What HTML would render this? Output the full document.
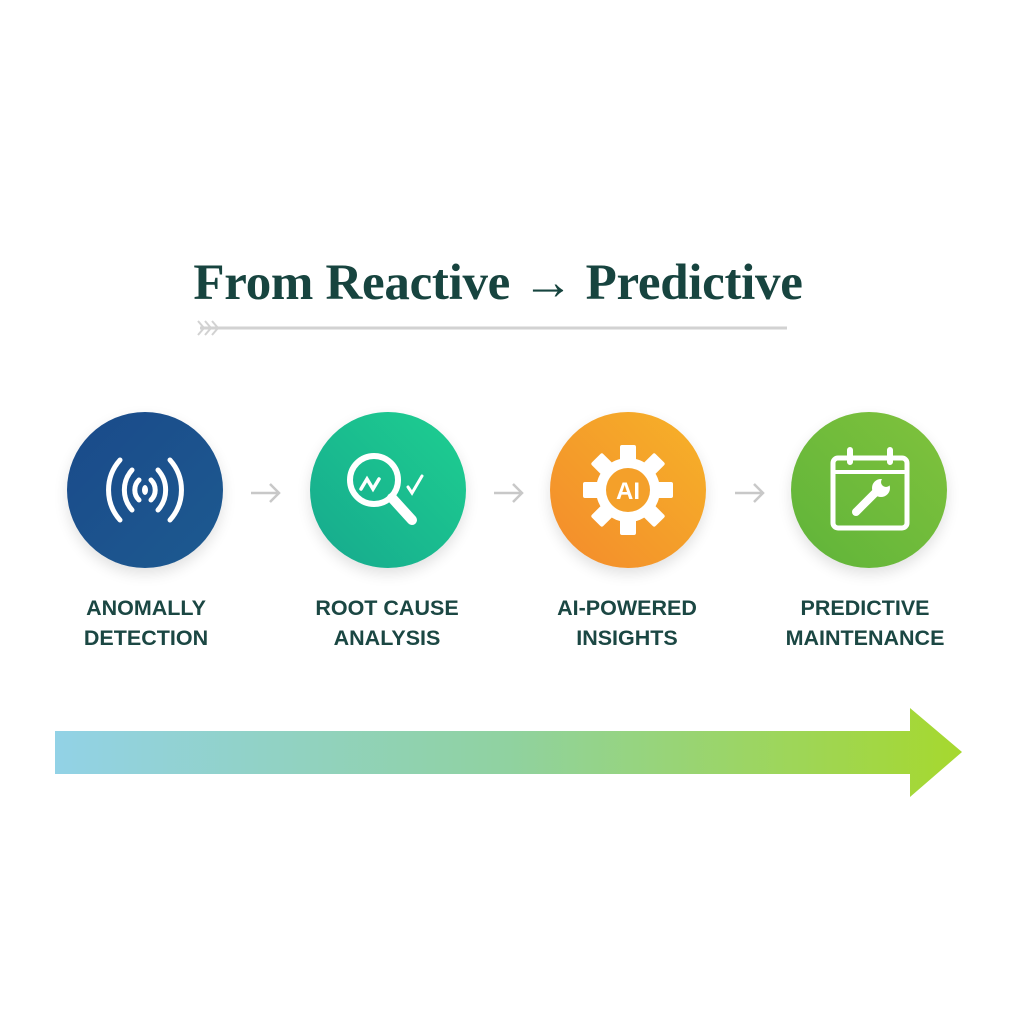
<!DOCTYPE html>
<html><head><style>
body{margin:0;width:1024px;height:1024px;background:#fff;position:relative;overflow:hidden;font-family:"Liberation Sans",sans-serif}
.t{position:absolute;left:0;width:1024px;top:254px;text-align:center;font-family:"Liberation Serif",serif;font-weight:bold;font-size:51px;color:#17443f;padding-right:28px;box-sizing:border-box;letter-spacing:-0.3px}
.c{position:absolute;width:156px;height:156px;border-radius:50%;top:412px;box-shadow:0 6px 14px rgba(0,0,0,.12)}
.l{position:absolute;width:220px;top:593px;text-align:center;font-weight:bold;font-size:21.5px;line-height:30px;color:#1b4743}
</style></head><body>
<div class="t">From Reactive → Predictive</div>
<svg style="position:absolute;left:0;top:0" width="1024" height="1024">
<defs><linearGradient id="g" x1="55" x2="962" gradientUnits="userSpaceOnUse"><stop offset="0" stop-color="#92d2e6"/><stop offset=".5" stop-color="#90d2a0"/><stop offset="1" stop-color="#a6d82e"/></linearGradient></defs>
<line x1="200" y1="328" x2="787" y2="328" stroke="#d2d2d2" stroke-width="3"/>
<path d="M198 321l6 7-6 7M205 321l6 7-6 7M212 321l6 7-6 7" stroke="#d2d2d2" stroke-width="2" fill="none"/>
<path d="M55 731H910V708L962 752L910 797V774H55Z" fill="url(#g)"/>
<path d="M251 493h28M270 484l9 9-9 9M494 493h28M513 484l9 9-9 9M735 493h28M754 484l9 9-9 9" stroke="#c8c8c8" stroke-width="2.5" fill="none"/>
</svg>
<div class="c" style="left:67px;background:linear-gradient(135deg,#1a4a8a,#1d5a90)"></div>
<div class="c" style="left:310px;background:linear-gradient(45deg,#16a98e,#1ecf90)"></div>
<div class="c" style="left:550px;background:linear-gradient(45deg,#f38b2c,#f6b228)"></div>
<div class="c" style="left:791px;background:linear-gradient(45deg,#5fb43a,#80c23c)"></div>
<svg style="position:absolute;left:0;top:0" width="1024" height="1024" fill="none" stroke="#fff" stroke-linecap="round">
<g stroke-width="5">
<path d="M120 460a45 45 0 0 0 0 60M170 460a45 45 0 0 1 0 60M132 470a30 30 0 0 0 0 40M158 470a30 30 0 0 1 0 40M139 480a14 14 0 0 0 0 20M151 480a14 14 0 0 1 0 20"/>
</g>
<ellipse cx="145" cy="490" rx="3" ry="5" fill="#fff" stroke="none"/>
<circle cx="374" cy="480" r="24" stroke-width="6"/>
<path d="M392 498l20 22" stroke-width="10"/>
<path d="M361 489l6-10 6 10 6-10" stroke-width="3.5"/>
<path d="M408 487l4 6 10-17" stroke-width="3"/>
<g transform="translate(628 490)">
<circle r="32" fill="#fff" stroke="none"/>
<g fill="#fff" stroke="none">
<rect x="-8" y="-45" width="16" height="16" rx="2"/><rect x="-8" y="29" width="16" height="16" rx="2"/>
<rect x="-45" y="-8" width="16" height="16" rx="2"/><rect x="29" y="-8" width="16" height="16" rx="2"/>
<g transform="rotate(45)"><rect x="-8" y="-45" width="16" height="16" rx="2"/><rect x="-8" y="29" width="16" height="16" rx="2"/><rect x="-45" y="-8" width="16" height="16" rx="2"/><rect x="29" y="-8" width="16" height="16" rx="2"/></g>
</g>
<circle r="22" fill="#f4a02a" stroke="none"/>
<text x="0" y="9" text-anchor="middle" fill="#fff" stroke="none" font-family="Liberation Sans" font-weight="bold" font-size="24">AI</text>
</g>
<rect x="833" y="458" width="74" height="70" rx="5" stroke-width="5"/>
<path d="M833 472h74" stroke-width="4"/>
<path d="M850 450v12M890 450v12" stroke-width="6"/>
<path d="M856 512l20-20" stroke-width="8"/>
<circle cx="881" cy="488" r="9" fill="#fff" stroke="none"/>
<circle cx="886" cy="482" r="5" fill="#72bc3c" stroke="none"/>
</svg>
<div class="l" style="left:36px">ANOMALLY<br>DETECTION</div>
<div class="l" style="left:277px">ROOT CAUSE<br>ANALYSIS</div>
<div class="l" style="left:517px">AI-POWERED<br>INSIGHTS</div>
<div class="l" style="left:755px">PREDICTIVE<br>MAINTENANCE</div>
</body></html>
